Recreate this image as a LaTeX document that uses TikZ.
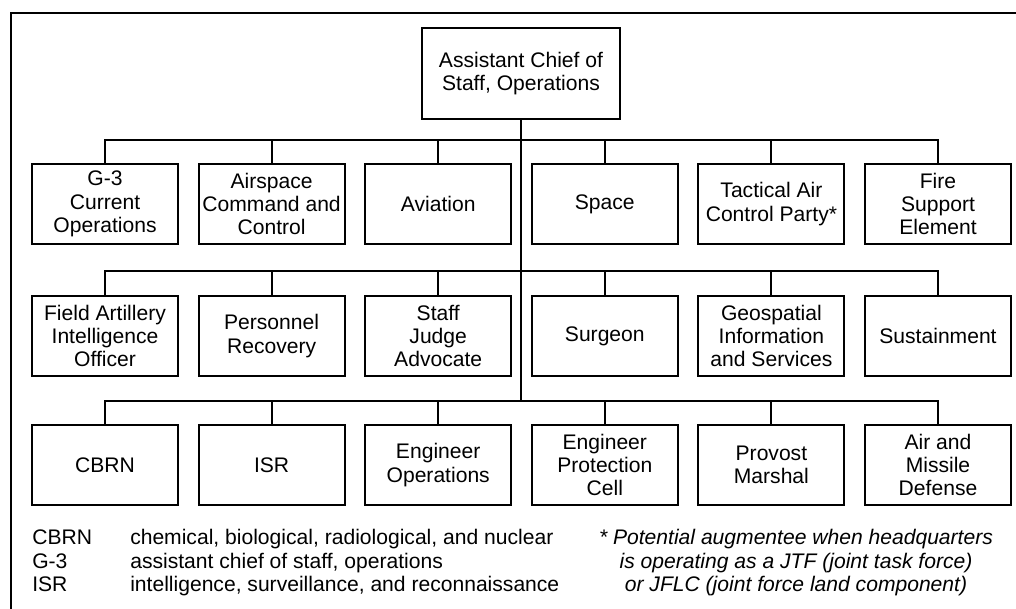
\documentclass[tikz,border=0pt]{standalone}
\usepackage{fontspec}
\setmainfont{Liberation Sans}
\usetikzlibrary{positioning}

\begin{document}
\begin{tikzpicture}[
  font=\fontsize{15}{16.65}\selectfont,
  box/.style={draw, line width=1.5pt, align=center, minimum width=3.65cm, minimum height=2cm, inner sep=1pt},
  head/.style={box, minimum width=4.95cm, minimum height=2.275cm},
  link/.style={line width=1.5pt},
  frame/.style={line width=1.5pt}
]
\useasboundingbox (0,0) rectangle (25.4,15.225);

% page corner
\draw[frame] (0.275,0) -- (0.275,14.9) -- (25.4,14.9);

\node[head] (acos) at (13.025,13.39) {Assistant Chief of\\Staff, Operations};

% bus levels
\coordinate (bus1) at (0,11.725);
\coordinate (bus2) at (0,8.45);
\coordinate (bus3) at (0,5.2);

% first row
\node[box] (g3)    at (2.625,10.125)  {G-3\\Current\\Operations};
\node[box] (acc)   at (6.79,10.125)   {Airspace\\Command and\\Control};
\node[box] (avn)   at (10.955,10.125) {Aviation};
\node[box] (spc)   at (15.12,10.125)  {Space};
\node[box] (tacp)  at (19.285,10.125) {Tactical Air\\Control Party*};
\node[box] (fse)   at (23.45,10.125)  {Fire\\Support\\Element};

% second row
\node[box] (faio)  at (2.625,6.825)  {Field Artillery\\Intelligence\\Officer};
\node[box] (pr)    at (6.79,6.825)   {Personnel\\Recovery};
\node[box] (sja)   at (10.955,6.825) {Staff\\Judge\\Advocate};
\node[box] (surg)  at (15.12,6.825)  {Surgeon};
\node[box] (gis)   at (19.285,6.825) {Geospatial\\Information\\and Services};
\node[box] (sust)  at (23.45,6.825)  {Sustainment};

% third row
\node[box] (cbrn)  at (2.625,3.6)  {CBRN};
\node[box] (isr)   at (6.79,3.6)   {ISR};
\node[box] (engop) at (10.955,3.6) {Engineer\\Operations};
\node[box] (epc)   at (15.12,3.6)  {Engineer\\Protection\\Cell};
\node[box] (pm)    at (19.285,3.6) {Provost\\Marshal};
\node[box] (amd)   at (23.45,3.6)  {Air and\\Missile\\Defense};

% trunk
\draw[link] (acos.south) -- (acos.south |- bus3);

% buses
\draw[link] (g3.north) -- (g3.north |- bus1) -- (fse.north |- bus1) -- (fse.north);
\draw[link] (acc.north) -- (acc.north |- bus1);
\draw[link] (avn.north) -- (avn.north |- bus1);
\draw[link] (spc.north) -- (spc.north |- bus1);
\draw[link] (tacp.north) -- (tacp.north |- bus1);

\draw[link] (faio.north) -- (faio.north |- bus2) -- (sust.north |- bus2) -- (sust.north);
\draw[link] (pr.north) -- (pr.north |- bus2);
\draw[link] (sja.north) -- (sja.north |- bus2);
\draw[link] (surg.north) -- (surg.north |- bus2);
\draw[link] (gis.north) -- (gis.north |- bus2);

\draw[link] (cbrn.north) -- (cbrn.north |- bus3) -- (amd.north |- bus3) -- (amd.north);
\draw[link] (isr.north) -- (isr.north |- bus3);
\draw[link] (engop.north) -- (engop.north |- bus3);
\draw[link] (epc.north) -- (epc.north |- bus3);
\draw[link] (pm.north) -- (pm.north |- bus3);

% legend and note
\node[anchor=base west, inner sep=0pt] (legend) at (0.8,1.6)
  {\begin{tabular}[t]{@{}p{2.45cm}@{}l@{}}
   CBRN & chemical, biological, radiological, and nuclear\\
   G-3  & assistant chief of staff, operations\\
   ISR  & intelligence, surveillance, and reconnaissance
   \end{tabular}};
\node[anchor=base, inner sep=0pt] (note) at (19.9,1.6)
  {\itshape\begin{tabular}[t]{@{}c@{}}
   * Potential augmentee when headquarters\\
   is operating as a JTF (joint task force)\\
   or JFLC (joint force land component)
   \end{tabular}};

\end{tikzpicture}
\end{document}
